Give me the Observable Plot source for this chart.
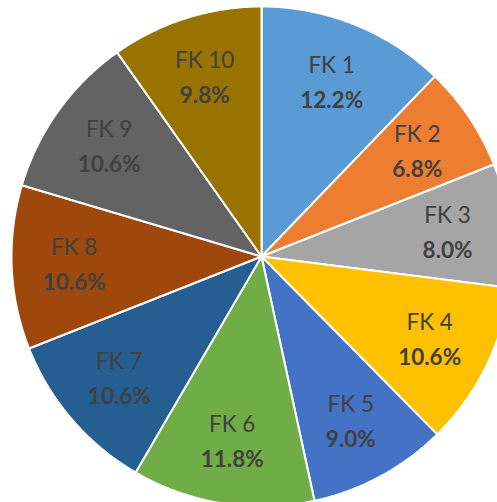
<!DOCTYPE html>
<html>
<head>
<meta charset="utf-8">
<script src="https://cdn.jsdelivr.net/npm/d3@7"></script>
<script src="https://cdn.jsdelivr.net/npm/@observablehq/plot@0.6"></script>
<style>
  html, body { margin: 0; padding: 0; background: #fff; overflow: hidden; }
  #chart svg { display: block; }
</style>
</head>
<body>
<div id="chart"></div>
<script>
const labels = ["FK 1", "FK 2", "FK 3", "FK 4", "FK 5", "FK 6", "FK 7", "FK 8", "FK 9", "FK 10"];
const values = [12.2, 6.8, 8.0, 10.6, 9.0, 11.8, 10.6, 10.6, 10.6, 9.8];
const colors = ["#5B9BD5", "#ED7D31", "#A5A5A5", "#FFC000", "#4472C4", "#70AD47", "#255E91", "#9E480E", "#636363", "#997300"];

const R = 250;
const labelR = 0.75 * R;

const arcs = d3.pie().sort(null).value(d => d)(values);

const pts = [];
arcs.forEach((a, i) => {
  const n = Math.max(2, Math.ceil((a.endAngle - a.startAngle) / 0.01));
  pts.push({label: labels[i], x: 0, y: 0});
  for (let k = 0; k <= n; k++) {
    const t = a.startAngle + (a.endAngle - a.startAngle) * k / n;
    pts.push({label: labels[i], x: R * Math.sin(t), y: R * Math.cos(t)});
  }
  pts.push({label: labels[i], x: 0, y: 0});
});

const lbl = arcs.map((a, i) => {
  const m = (a.startAngle + a.endAngle) / 2;
  return {label: labels[i], pct: values[i].toFixed(1) + "%", x: labelR * Math.sin(m), y: labelR * Math.cos(m)};
});

const chart = Plot.plot({
  width: 497,
  height: 502,
  margin: 0,
  x: {domain: [-261, 236], axis: null},
  y: {domain: [-246, 256], axis: null},
  color: {domain: labels, range: colors},
  style: {fontFamily: "Lato, 'Open Sans', sans-serif", background: "white"},
  marks: [
    Plot.line(pts, {x: "x", y: "y", z: "label", fill: "label", stroke: "white", strokeWidth: 2, strokeLinejoin: "round", curve: "linear"}),
    Plot.text(lbl, {x: "x", y: "y", text: "label", dy: -17, fontSize: 22.5, fill: "#404040"}),
    Plot.text(lbl, {x: "x", y: "y", text: "pct", dy: 18, fontSize: 22.5, fontWeight: "bold", fill: "#404040"})
  ]
});
document.getElementById("chart").appendChild(chart);
</script>
</body>
</html>
